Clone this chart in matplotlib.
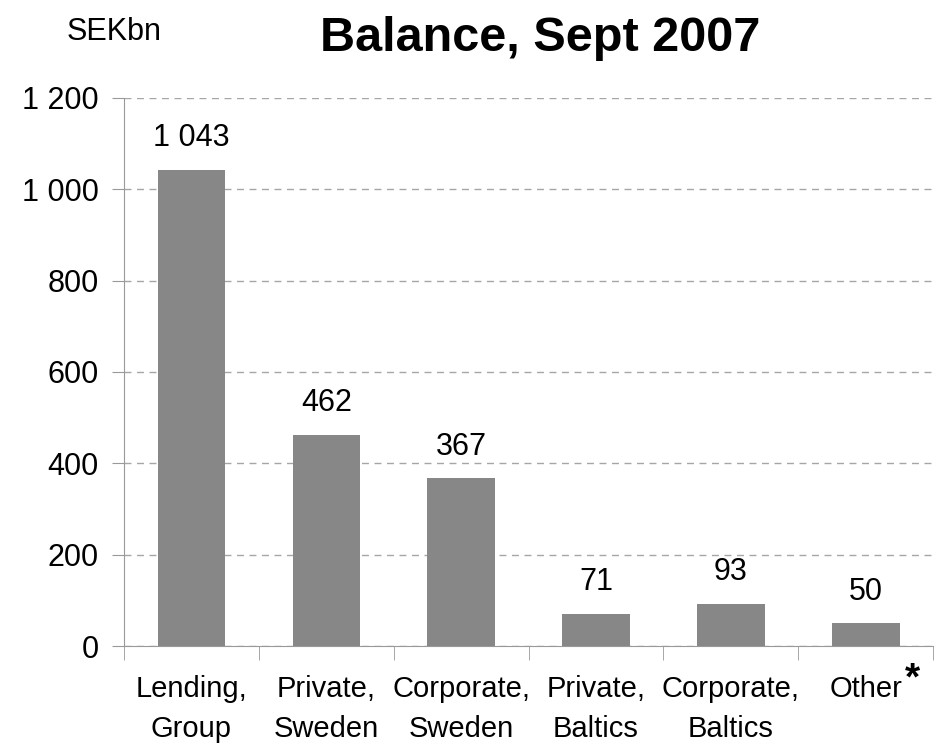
import matplotlib.pyplot as plt
import numpy as np

plt.rcParams['font.family'] = ['Liberation Sans', 'DejaVu Sans']

categories = ["Lending,\nGroup", "Private,\nSweden", "Corporate,\nSweden",
              "Private,\nBaltics", "Corporate,\nBaltics", "Other\n "]
values = [1043, 462, 367, 71, 93, 50]
value_labels = ["1 043", "462", "367", "71", "93", "50"]
yticks = [0, 200, 400, 600, 800, 1000, 1200]
ytick_labels = ["0", "200", "400", "600", "800", "1 000", "1 200"]

fig = plt.figure(figsize=(9.37, 7.49), dpi=100)
ax = fig.add_axes([0.1323, 0.1375, 0.8637, 0.7317])

x = np.arange(len(categories))
ax.bar(x, values, width=0.5, color="#878787", zorder=3)

for xi, v, lab in zip(x, values, value_labels):
    ax.annotate(lab, (xi, v), xytext=(0, 12), textcoords="offset points",
                ha="center", va="bottom", fontsize=22)

ax.set_xlim(-0.5, len(categories) - 0.5)
ax.set_ylim(0, 1200)
ax.set_yticks(yticks)
ax.set_yticklabels(ytick_labels, fontsize=22)
ax.yaxis.grid(True, linestyle=(0, (5, 4)), color="#a6a6a6", linewidth=1)
ax.set_axisbelow(True)

ax.set_xticks(x)
ax.set_xticklabels(categories, fontsize=21, linespacing=1.55)
ax.tick_params(axis="x", length=0, pad=21)
ax.set_xticks(np.arange(-0.5, len(categories)), minor=True)
ax.tick_params(axis="x", which="minor", length=10, color="#999999", direction="out")
ax.tick_params(axis="y", length=9, color="#999999", direction="out", pad=9)

# the asterisk after "Other" is larger than the label text
ax.annotate("*", (5, 0), xytext=(28, -11), textcoords="offset points",
            ha="left", va="top", fontsize=28, fontweight="bold",
            annotation_clip=False)

for s in ["top", "right"]:
    ax.spines[s].set_visible(False)
ax.spines["left"].set_color("#999999")
ax.spines["bottom"].set_color("#999999")

fig.text(0.576, 0.949, "Balance, Sept 2007", ha="center", va="center",
         fontsize=35, fontweight="bold")
fig.text(0.0715, 0.957, "SEKbn", ha="left", va="center", fontsize=22)

fig.savefig("out.png", dpi=100)
